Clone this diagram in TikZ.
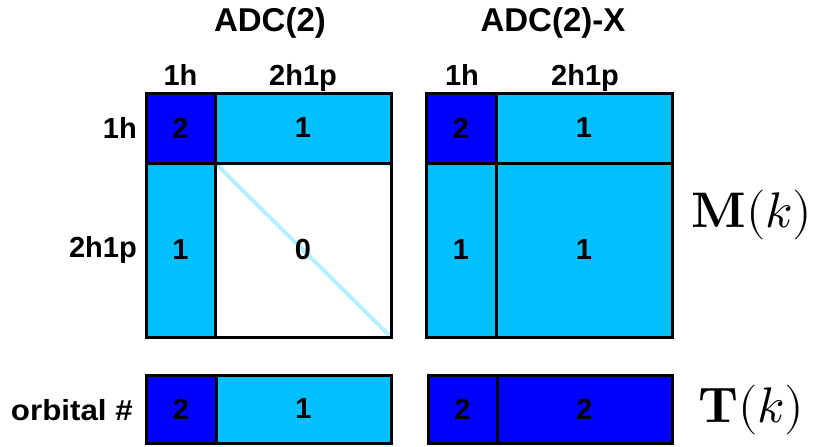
\documentclass[tikz,border=0pt]{standalone}
\usepackage{fontspec}
\usepackage{unicode-math}
\setmainfont{Liberation Sans}
\setmathfont{Latin Modern Math}
\definecolor{dkblue}{HTML}{0000FF}
\definecolor{ltblue}{HTML}{00C0FF}
\definecolor{diagc}{HTML}{B4F0FF}
\tikzset{
  cellbox/.style={draw=black, line width=3pt},
  lab/.style={font=\bfseries\fontsize{29}{30}\selectfont, inner sep=0pt},
  ttl/.style={font=\bfseries\fontsize{33}{34}\selectfont, inner sep=0pt},
  mathlab/.style={font=\fontsize{50}{52}\selectfont, inner sep=0pt}
}
\begin{document}
\begin{tikzpicture}[x=1pt,y=-1pt]
\useasboundingbox (0,0) rectangle (814,447);
% ---- ADC(2) matrix
\fill[dkblue] (146,93) rectangle (215,163);
\fill[ltblue] (215,93) rectangle (391,163);
\fill[ltblue] (146,163) rectangle (215,337);
\fill[white] (215,163) rectangle (391,337);
\draw[diagc, line width=4pt] (217,165) -- (389,335);
\draw[cellbox] (146,93) rectangle (391,337);
\draw[cellbox] (215,93) -- (215,337);
\draw[cellbox] (146,163) -- (391,163);
\node[lab] (a11) at (180.5,128) {2};
\node[lab] (a12) at (303,128) {1};
\node[lab] (a21) at (180.5,250) {1};
\node[lab] (a22) at (303,250) {0};
% ---- ADC(2)-X matrix
\fill[dkblue] (426,93) rectangle (496,163);
\fill[ltblue] (496,93) rectangle (672,163);
\fill[ltblue] (426,163) rectangle (672,337);
\draw[cellbox] (426,93) rectangle (672,337);
\draw[cellbox] (496,93) -- (496,337);
\draw[cellbox] (426,163) -- (672,163);
\node[lab] (b11) at (461,128) {2};
\node[lab] (b12) at (584,128) {1};
\node[lab] (b21) at (461,250) {1};
\node[lab] (b22) at (584,250) {1};
% ---- T rows
\fill[dkblue] (146,375) rectangle (216,443);
\fill[ltblue] (216,375) rectangle (391,443);
\draw[cellbox] (146,375) rectangle (391,443);
\draw[cellbox] (216,375) -- (216,443);
\node[lab] (c1) at (181,409) {2};
\node[lab] (c2) at (303.5,409) {1};
\fill[dkblue] (428,375) rectangle (672,443);
\draw[cellbox] (428,375) rectangle (672,443);
\draw[cellbox] (497,375) -- (497,443);
\node[lab] (d1) at (462.5,409) {2};
\node[lab] (d2) at (584.5,409) {2};
% ---- labels
\node[ttl, anchor=base] (t1) at (270,31) {ADC(2)};
\node[ttl, anchor=base] (t2) at (553,31) {ADC(2)-X};
\node[lab, anchor=base] (h1) at (180.5,85) {1h};
\node[lab, anchor=base] (h2) at (303,85) {2h1p};
\node[lab, anchor=base] (h3) at (462,85) {1h};
\node[lab, anchor=base] (h4) at (585,85) {2h1p};
\node[lab, anchor=east] (r1) at (137,128) {1h};
\node[lab, anchor=east] (r2) at (137,250) {2h1p};
\node[lab, anchor=east, xscale=1.08] (r3) at (133,410) {orbital \#};
\node[mathlab] (M) at (752,215) {$\symbf{M}(k)$};
\node[mathlab] (T) at (751,410) {$\symbf{T}(k)$};
\end{tikzpicture}
\end{document}
